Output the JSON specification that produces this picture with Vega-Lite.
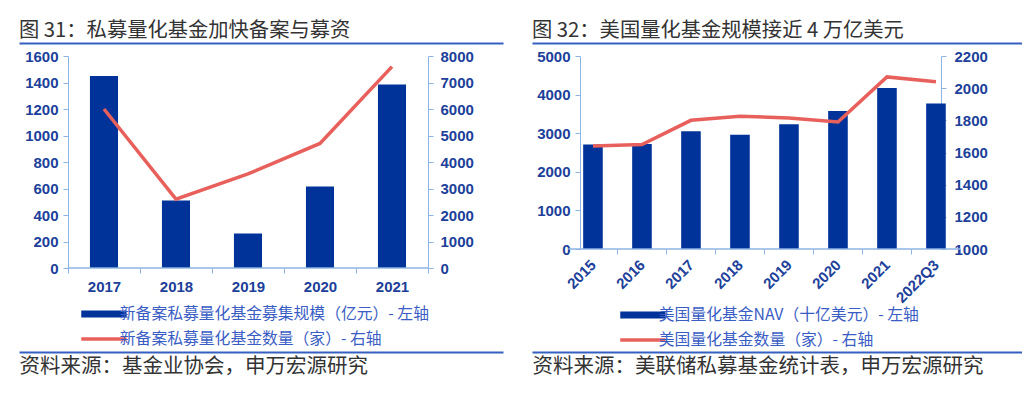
{
  "$schema": "https://vega.github.io/schema/vega-lite/v6.json",
  "background": "white",
  "padding": {"left": 19, "top": 20, "right": 0, "bottom": 14},
  "spacing": 24,
  "config": {"view": {"stroke": null}},
  "resolve": {"scale": {"color": "independent"}, "legend": {"color": "independent"}},
  "hconcat": [
    {
      "width": 484,
      "height": 212,
      "title": {"text": "图 31：私募量化基金加快备案与募资", "anchor": "start", "frame": "group", "fontSize": 20.3, "font": "Noto Sans CJK SC", "fontWeight": "normal", "color": "#333333", "baseline": "alphabetic", "offset": -14},
      "data": {"values": [
        {"year": "2017", "scale": 1450, "count": 6000},
        {"year": "2018", "scale": 510, "count": 2600},
        {"year": "2019", "scale": 260, "count": 3550},
        {"year": "2020", "scale": 615, "count": 4700},
        {"year": "2021", "scale": 1385, "count": 7600}
      ]},
      "layer": [
        {
          "mark": {"type": "bar", "width": {"band": 0.39}},
          "encoding": {
            "x": {"field": "year", "type": "nominal", "sort": null,
              "scale": {"paddingInner": 0, "paddingOuter": 0.861, "align": 0.395},
              "axis": {"orient": "bottom", "title": null, "domain": false, "ticks": true, "tickBand": "extent", "tickColor": "#8DB4E2", "tickSize": 5, "labelAngle": 0, "labelFont": "Liberation Sans", "labelFontSize": 15, "labelFontWeight": "bold", "labelColor": "#203F9A", "labelPadding": 6}},
            "y": {"field": "scale", "type": "quantitative", "scale": {"domain": [0, 1600]},
              "axis": {"orient": "left", "offset": -49, "values": [0, 200, 400, 600, 800, 1000, 1200, 1400, 1600], "format": "d", "title": null, "grid": false, "domainColor": "#8DB4E2", "tickColor": "#8DB4E2", "tickSize": 5, "labelFont": "Liberation Sans", "labelFontSize": 15, "labelFontWeight": "bold", "labelColor": "#203F9A", "labelPadding": 5}},
            "color": {"datum": "新备案私募量化基金募集规模（亿元）- 左轴", "type": "nominal",
              "scale": {"domain": ["新备案私募量化基金募集规模（亿元）- 左轴", "新备案私募量化基金数量（家）- 右轴"], "range": ["#003399", "#E8605C"]},
              "legend": {"orient": "none", "legendX": 77, "legendY": 250, "direction": "vertical", "title": null, "symbolType": "stroke", "symbolSize": 2050, "labelFont": "Noto Sans CJK SC", "labelFontSize": 15.8, "labelColor": "#3A5DC4", "labelLimit": 0, "labelOffset": 8, "rowPadding": 2,
                "encode": {"symbols": {"update": {"stroke": {"signal": "datum.index === 0 ? '#003399' : '#E8605C'"}, "strokeWidth": {"signal": "datum.index === 0 ? 7 : 3.5"}, "fillOpacity": {"value": 0}, "opacity": {"value": 1}}}}}}
          }
        },
        {
          "mark": {"type": "line", "strokeWidth": 3.5},
          "encoding": {
            "x": {"field": "year", "type": "nominal", "sort": null,
              "axis": {"orient": "top", "offset": 13, "domainColor": "#3560C0", "domainWidth": 2, "labels": false, "ticks": false, "title": null}},
            "y": {"field": "count", "type": "quantitative", "scale": {"domain": [0, 8000]},
              "axis": {"orient": "right", "offset": -75, "values": [0, 1000, 2000, 3000, 4000, 5000, 6000, 7000, 8000], "format": "d", "title": null, "grid": false, "domainColor": "#8DB4E2", "tickColor": "#8DB4E2", "tickSize": 5, "labelFont": "Liberation Sans", "labelFontSize": 15, "labelFontWeight": "bold", "labelColor": "#203F9A", "labelPadding": 7}},
            "color": {"datum": "新备案私募量化基金数量（家）- 右轴", "type": "nominal"}
          }
        },
        {
          "mark": {"type": "bar", "width": {"band": 1}, "fillOpacity": 0, "stroke": "#8DB4E2", "strokeWidth": 1},
          "encoding": {
            "x": {"field": "year", "type": "nominal", "sort": null,
              "axis": {"orient": "bottom", "offset": 84, "domainColor": "#3560C0", "domainWidth": 2, "labels": false, "ticks": false, "title": "资料来源：基金业协会，申万宏源研究", "titleAnchor": "start", "titleAlign": "left", "titleFont": "Noto Sans CJK SC", "titleFontSize": 20.5, "titleFontWeight": "normal", "titleColor": "#333333", "titlePadding": 4, "titleBaseline": "top"}},
            "y": {"datum": 0, "type": "quantitative", "scale": {"domain": [0, 1600]}, "axis": null},
            "y2": {"datum": 0}
          }
        }
      ],
      "resolve": {"scale": {"y": "independent"}, "axis": {"x": "independent", "y": "independent"}}
    },
    {
      "width": 490,
      "height": 193,
      "title": {"text": "图 32：美国量化基金规模接近 4 万亿美元", "anchor": "start", "frame": "group", "fontSize": 20.3, "font": "Noto Sans CJK SC", "fontWeight": "normal", "color": "#333333", "baseline": "alphabetic", "offset": -14},
      "data": {"values": [
        {"year": "2015", "nav": 2710, "count": 1640},
        {"year": "2016", "nav": 2720, "count": 1650},
        {"year": "2017", "nav": 3050, "count": 1800},
        {"year": "2018", "nav": 2960, "count": 1825},
        {"year": "2019", "nav": 3230, "count": 1815},
        {"year": "2020", "nav": 3575, "count": 1790},
        {"year": "2021", "nav": 4170, "count": 2070},
        {"year": "2022Q3", "nav": 3770, "count": 2040}
      ]},
      "layer": [
        {
          "mark": {"type": "bar", "width": {"band": 0.4}},
          "encoding": {
            "x": {"field": "year", "type": "nominal", "sort": null,
              "scale": {"paddingInner": 0, "paddingOuter": 1.4294, "align": 0.3721},
              "axis": {"orient": "bottom", "title": null, "domain": false, "ticks": true, "tickBand": "extent", "tickColor": "#8DB4E2", "tickSize": 5, "labelAngle": -45, "labelAlign": "right", "labelBaseline": "middle", "labelFont": "Liberation Sans", "labelFontSize": 15, "labelFontWeight": "bold", "labelColor": "#203F9A", "labelPadding": 8}},
            "y": {"field": "nav", "type": "quantitative", "scale": {"domain": [0, 5000]},
              "axis": {"orient": "left", "offset": -48, "values": [0, 1000, 2000, 3000, 4000, 5000], "format": "d", "title": null, "grid": false, "domainColor": "#8DB4E2", "tickColor": "#8DB4E2", "tickSize": 5, "labelFont": "Liberation Sans", "labelFontSize": 15, "labelFontWeight": "bold", "labelColor": "#203F9A", "labelPadding": 5}},
            "color": {"datum": "美国量化基金NAV（十亿美元）- 左轴", "type": "nominal",
              "scale": {"domain": ["美国量化基金NAV（十亿美元）- 左轴", "美国量化基金数量（家）- 右轴"], "range": ["#003399", "#E8605C"]},
              "legend": {"orient": "none", "legendX": 103, "legendY": 251, "direction": "vertical", "title": null, "symbolType": "stroke", "symbolSize": 2050, "labelFont": "Noto Sans CJK SC", "labelFontSize": 15.8, "labelColor": "#3A5DC4", "labelLimit": 0, "labelOffset": 8, "rowPadding": 2,
                "encode": {"symbols": {"update": {"stroke": {"signal": "datum.index === 0 ? '#003399' : '#E8605C'"}, "strokeWidth": {"signal": "datum.index === 0 ? 7 : 3.5"}, "fillOpacity": {"value": 0}, "opacity": {"value": 1}}}}}}
          }
        },
        {
          "mark": {"type": "line", "strokeWidth": 3.5},
          "encoding": {
            "x": {"field": "year", "type": "nominal", "sort": null,
              "axis": {"orient": "top", "offset": 13, "domainColor": "#3560C0", "domainWidth": 2, "labels": false, "ticks": false, "title": null}},
            "y": {"field": "count", "type": "quantitative", "scale": {"domain": [1000, 2200], "zero": false},
              "axis": {"orient": "right", "offset": -81, "values": [1000, 1200, 1400, 1600, 1800, 2000, 2200], "format": "d", "title": null, "grid": false, "domainColor": "#8DB4E2", "tickColor": "#8DB4E2", "tickSize": 5, "labelFont": "Liberation Sans", "labelFontSize": 15, "labelFontWeight": "bold", "labelColor": "#203F9A", "labelPadding": 8}},
            "color": {"datum": "美国量化基金数量（家）- 右轴", "type": "nominal"}
          }
        },
        {
          "mark": {"type": "bar", "width": {"band": 1}, "fillOpacity": 0, "stroke": "#8DB4E2", "strokeWidth": 1},
          "encoding": {
            "x": {"field": "year", "type": "nominal", "sort": null,
              "axis": {"orient": "bottom", "offset": 103, "domainColor": "#3560C0", "domainWidth": 2, "labels": false, "ticks": false, "title": "资料来源：美联储私募基金统计表，申万宏源研究", "titleAnchor": "start", "titleAlign": "left", "titleFont": "Noto Sans CJK SC", "titleFontSize": 20.5, "titleFontWeight": "normal", "titleColor": "#333333", "titlePadding": 4, "titleBaseline": "top"}},
            "y": {"datum": 0, "type": "quantitative", "scale": {"domain": [0, 5000]}, "axis": null},
            "y2": {"datum": 0}
          }
        }
      ],
      "resolve": {"scale": {"y": "independent"}, "axis": {"x": "independent", "y": "independent"}}
    }
  ]
}
